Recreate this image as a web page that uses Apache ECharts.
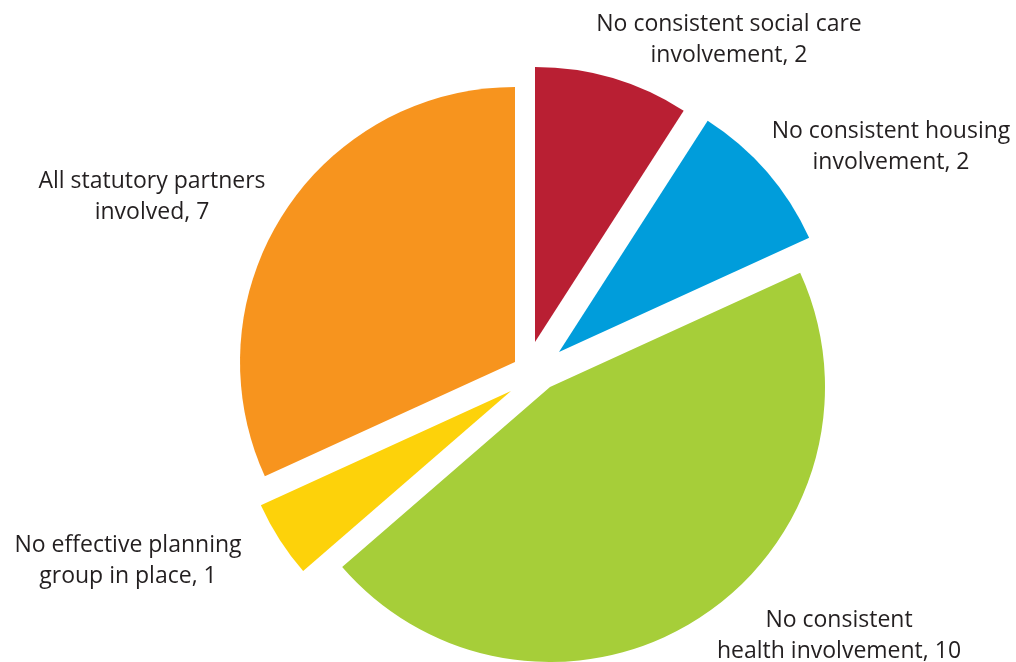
<!DOCTYPE html>
<html>
<head>
<meta charset="utf-8">
<script src="https://cdn.jsdelivr.net/npm/echarts@6/dist/echarts.min.js"></script>
<style>
html,body{margin:0;padding:0;background:#fff;}
#chart{width:1016px;height:662px;}
</style>
</head>
<body>
<div id="chart"></div>
<script>
// Data (clockwise from 12 o'clock)
var categories = [
  'No consistent social care\ninvolvement',
  'No consistent housing\ninvolvement',
  'No consistent\nhealth involvement',
  'No effective planning\ngroup in place',
  'All statutory partners\ninvolved'
];
var values = [2, 2, 10, 1, 7];

// Styles / layout
var colors = ['#B91F33', '#009DDB', '#A6CE39', '#FDD20A', '#F7941E'];
// exploded slice apex positions (px)
var sliceCenters = [[535, 342], [559, 352], [550, 387], [511, 391], [515, 362]];
// label block centres (px)
var labelPos = [[729, 40], [891, 147], [839, 636], [128, 561], [152, 197]];

var chart = echarts.init(document.getElementById('chart'), null, {renderer: 'canvas'});

var series = categories.map(function (_, k) {
  return {
    type: 'pie',
    radius: [0, 275],
    center: sliceCenters[k],
    startAngle: 90,
    clockwise: true,
    avoidLabelOverlap: false,
    silent: true,
    animation: false,
    emphasis: {disabled: true},
    labelLine: {show: false},
    label: {
      show: true,
      formatter: '{b}, {c}',
      fontFamily: 'Open Sans',
      fontSize: 23,
      lineHeight: 31,
      color: '#231F20',
      align: 'center'
    },
    labelLayout: function () {
      return {x: labelPos[k][0], y: labelPos[k][1], align: 'center', verticalAlign: 'middle'};
    },
    data: categories.map(function (name, i) {
      return {
        name: name,
        value: values[i],
        itemStyle: i === k ? {color: colors[i]} : {color: 'rgba(0,0,0,0)'},
        label: {show: i === k}
      };
    })
  };
});

chart.setOption({
  backgroundColor: '#ffffff',
  animation: false,
  series: series
});
</script>
</body>
</html>
